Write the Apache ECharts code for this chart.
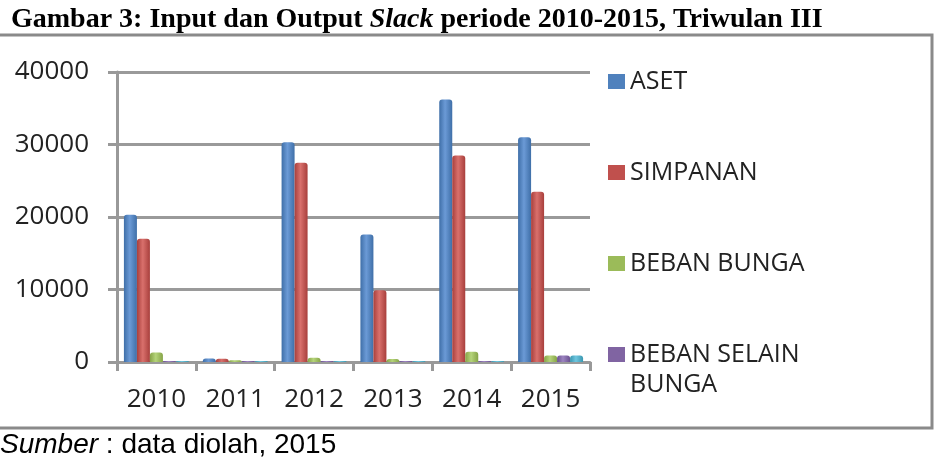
<!DOCTYPE html>
<html>
<head>
<meta charset="utf-8">
<script src="https://cdn.jsdelivr.net/npm/echarts/dist/echarts.min.js"></script>
<style>
  html, body { margin: 0; padding: 0; background: #fff; }
  #chart1 { width: 942px; height: 460px; }
</style>
</head>
<body>
<div id="chart1"></div>
<script>
let option;
let chart1;

const years = ['2010', '2011', '2012', '2013', '2014', '2015'];
const aset = [20300, 500, 30300, 17600, 36200, 31000];
const simpanan = [17000, 450, 27500, 9900, 28500, 23500];
const bebanBunga = [1300, 250, 600, 400, 1400, 900];
const bebanSelainBunga = [150, 150, 150, 150, 150, 900];
const seriKelima = [150, 150, 150, 150, 150, 900];
const yTicks = [0, 10000, 20000, 30000, 40000];

const shade = (c1, c2) => ({
    type: 'linear', x: 0, y: 0, x2: 1, y2: 0,
    colorStops: [
        { offset: 0, color: c1 },
        { offset: 0.45, color: c2 },
        { offset: 1, color: c1 }
    ]
});

const mkBar = (name, data, c1, c2) => ({
    name: name,
    type: 'bar',
    data: data,
    barWidth: 13,
    barGap: '0%',
    itemStyle: { color: shade(c1, c2), borderRadius: [3, 3, 0, 0] }
});

const getOptionChart1 = () => {
    return {
        animation: false,
        title: {
            text: '{n|Gambar 3: }{b|Input dan Output }{i|Slack}{b| periode 2010-2015, Triwulan III}',
            left: 6,
            top: 1,
            textStyle: {
                rich: {
                    n: { fontFamily: 'Liberation Serif', fontSize: 28, color: '#000' },
                    b: { fontFamily: 'Liberation Serif', fontSize: 28, fontWeight: 'bold', color: '#000' },
                    i: { fontFamily: 'Liberation Serif', fontSize: 28, fontWeight: 'bold', fontStyle: 'italic', color: '#000' }
                }
            }
        },
        legend: {
            orient: 'vertical',
            left: 608,
            top: 66,
            padding: 0,
            itemWidth: 17,
            itemHeight: 15,
            itemGap: 60,
            icon: 'rect',
            data: [
                { name: 'ASET', itemStyle: { color: '#4f81bd' } },
                { name: 'SIMPANAN', itemStyle: { color: '#c0504d' } },
                { name: 'BEBAN BUNGA', itemStyle: { color: '#9bbb59' } },
                { name: 'BEBAN SELAIN BUNGA', itemStyle: { color: '#8064a2' } }
            ],
            formatter: (n) => n === 'BEBAN SELAIN BUNGA' ? 'BEBAN SELAIN' : n,
            textStyle: { fontFamily: 'Open Sans', fontSize: 25, color: '#222', lineHeight: 31 }
        },
        graphic: [
            {
                type: 'rect',
                shape: { x: -4, y: 35, width: 936, height: 393 },
                style: { fill: 'none', stroke: '#8a8a8a', lineWidth: 3 },
                z: -1
            },
            {
                type: 'text',
                left: 630,
                top: 372,
                style: { text: 'BUNGA', fontFamily: 'Open Sans', fontSize: 25, fill: '#222' }
            },
            {
                type: 'text',
                left: 0,
                top: 431,
                style: {
                    text: '{i|Sumber} : data diolah, 2015',
                    fontFamily: 'Liberation Sans', fontSize: 28, fill: '#000',
                    rich: { i: { fontFamily: 'Liberation Sans', fontSize: 28, fontStyle: 'italic', fill: '#000' } }
                }
            }
        ],
        grid: { left: 117, right: 352, top: 72, bottom: 98 },
        xAxis: {
            type: 'category',
            data: years,
            axisLine: { lineStyle: { color: '#999', width: 3 } },
            axisTick: { show: true, length: 9, lineStyle: { color: '#999', width: 3 } },
            axisLabel: { margin: 25, fontFamily: 'Open Sans', fontSize: 26, color: '#222' }
        },
        yAxis: {
            type: 'value',
            min: yTicks[0],
            max: yTicks[yTicks.length - 1],
            interval: 10000,
            axisLine: { show: true, lineStyle: { color: '#999', width: 3 } },
            axisTick: { show: true, length: 9, lineStyle: { color: '#999', width: 3 } },
            axisLabel: { margin: 28, fontFamily: 'Open Sans', fontSize: 26, color: '#222', formatter: (v) => String(v) },
            splitLine: { lineStyle: { color: '#9a9a9a', width: 3 } }
        },
        series: [
            mkBar('ASET', aset, '#3f6fa8', '#6b9ad6'),
            mkBar('SIMPANAN', simpanan, '#a83f3c', '#d9706c'),
            mkBar('BEBAN BUNGA', bebanBunga, '#86a447', '#b5d47a'),
            mkBar('BEBAN SELAIN BUNGA', bebanSelainBunga, '#6a5190', '#9c84c0'),
            mkBar('LAINNYA', seriKelima, '#3a97b0', '#6fc6df')
        ]
    };
};

const initCharts = () => {
    chart1 = echarts.init(document.getElementById('chart1'));
    option = getOptionChart1();
    chart1.setOption(option);
};
document.addEventListener('DOMContentLoaded', function () {
    initCharts();
});

window.addEventListener('resize', function () {
    chart1.resize();
});
</script>
</body>
</html>
